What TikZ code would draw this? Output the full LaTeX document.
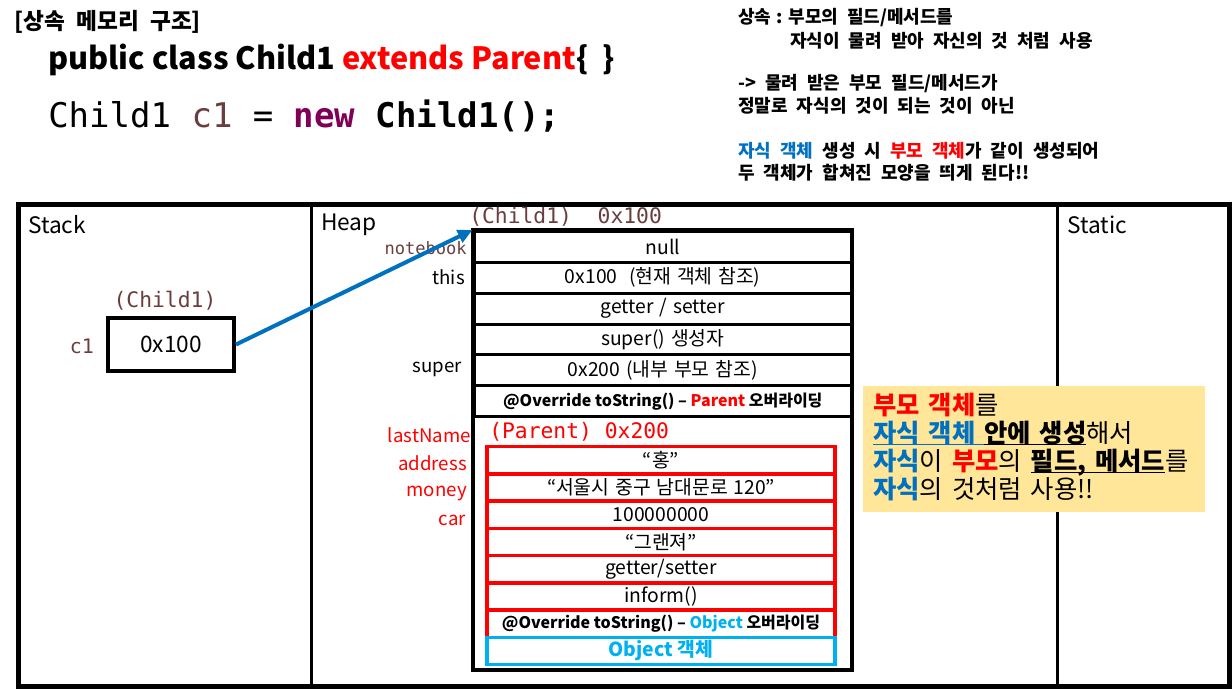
\documentclass[tikz,border=0pt]{standalone}
\usepackage{fontspec}
\setmainfont{Noto Sans CJK KR}
\newfontfamily\codefont{DejaVu Sans Mono}
\usetikzlibrary{arrows.meta}

\definecolor{varbrown}{HTML}{6A3E3E}
\definecolor{keypurple}{HTML}{7F0055}
\definecolor{refblue}{HTML}{0070C0}
\definecolor{objblue}{HTML}{00B0F0}
\definecolor{noteyellow}{HTML}{FFE699}
\definecolor{parentred}{HTML}{FF0000}

\newcommand{\fsz}[1]{\fontsize{#1}{#1}\selectfont}
\newcommand{\widesp}[1]{\spaceskip #1\relax}
\newcommand{\ulword}[1]{\setbox0=\hbox{#1}\rlap{\rule[-2.6pt]{\wd0}{1pt}}\box0}

\begin{document}
\begin{tikzpicture}[x=0.75pt,y=-0.75pt]
  \tikzstyle{area} = [draw, line width=3.75pt]
  \tikzstyle{wall} = [draw, line width=2.25pt]
  \tikzstyle{field} = [rectangle, draw, line width=2.25pt, minimum width=283.1pt, minimum height=23.15pt, inner sep=0pt, font=\fsz{14.5}\widesp{0.3em}]
  \tikzstyle{pfield} = [rectangle, draw=parentred, line width=2.6pt, minimum width=261pt, minimum height=20.42pt, inner sep=0pt, font=\fsz{14.5}\widesp{0.3em}]
  \tikzstyle{fieldname} = [anchor=east, inner sep=0pt, font=\fsz{14}]
  \tikzstyle{monotxt} = [inner sep=0pt, font=\codefont\fsz{16}, text=varbrown]
  \tikzstyle{memo} = [anchor=west, inner sep=0pt, font=\bfseries\fsz{13.5}\widesp{0.5em}]
  \tikzstyle{notetxt} = [anchor=base west, inner sep=0pt, font=\fsz{19}\widesp{0.35em}]
  \tikzstyle{arrow} = [line width=3pt, draw=refblue, -{Triangle[length=11pt,width=10pt]}]

  \useasboundingbox (0,0) rectangle (1232,689);

  % code at the top
  \node[anchor=west, inner sep=0pt, font=\bfseries\fsz{17}\widesp{0.5em}] (title) at (14,22) {[상속 메모리 구조]};
  \node[anchor=west, inner sep=0pt, font=\bfseries\fsz{23}] (classline) at (48,60) {public class Child1 \textcolor{parentred}{extends Parent}\{\ \ \}};
  \node[anchor=west, inner sep=0pt, font=\codefont\fsz{25.5}] (newline) at (48,116) {Child1 \textcolor{varbrown}{c1} = \textcolor{keypurple}{\bfseries new} \textbf{Child1();}};

  % notes at the top right
  \node[memo] (inh1) at (738,18) {상속\hspace{0.3em}:\hspace{0.3em}부모의 필드/메서드를};
  \node[memo] (inh2) at (790,41) {자식이 물려 받아 자신의 것 처럼 사용};
  \node[memo] (inh3) at (738,84) {-> 물려 받은 부모 필드/메서드가};
  \node[memo] (inh4) at (738,106) {정말로 자식의 것이 되는 것이 아닌};
  \node[memo] (inh5) at (738,151) {\textcolor{refblue}{자식 객체} 생성 시 \textcolor{parentred}{부모 객체}가 같이 생성되어};
  \node[memo] (inh6) at (738,173) {두 객체가 합쳐진 모양을 띄게 된다!!};

  % memory areas
  \draw[area] (18.5,204.5) rectangle (1229.5,686.5);
  \draw[wall] (311,204.5) -- (311,686.5);
  \draw[wall] (1057,204.5) -- (1057,686.5);
  \node[anchor=west, inner sep=0pt, font=\fsz{17}] (stack) at (28,225) {Stack};
  \node[anchor=west, inner sep=0pt, font=\fsz{17}] (heap) at (321,225) {Heap};
  \node[anchor=west, inner sep=0pt, font=\fsz{17}] (static) at (1067,225) {Static};

  % stack
  \node[rectangle, draw, line width=3pt, minimum width=94.5pt, minimum height=39.75pt, font=\fsz{17}] (c1box) at (171,344.5) {0x100};
  \node[monotxt] (c1type) at (165,301) {(Child1)};
  \node[monotxt, font=\codefont\fsz{15}] (c1name) at (82,346) {c1};

  % heap: Child1 object
  \begin{scope}[node distance=23.15pt]
    \node[field] (nullrow) at (662.75,246.9) {null};
    \node[field, below of=nullrow] (thisrow) {0x100~~(현재 객체 참조)};
    \node[field, below of=thisrow] (gsrow) {getter / setter};
    \node[field, below of=gsrow] (superrow) {super() 생성자};
    \node[field, below of=superrow] (refrow) {0x200 (내부 부모 참조)};
    \node[field, below of=refrow, font=\bfseries\fsz{12}] (tostrrow) {@Override toString() – \textcolor{parentred}{Parent} 오버라이딩};
  \end{scope}

  % heap: Parent object inside
  \begin{scope}[node distance=20.42pt]
    \node[pfield] (lastrow) at (661,460.3) {“홍”};
    \node[pfield, below of=lastrow] (addrrow) {“서울시 중구 남대문로 120”};
    \node[pfield, below of=addrrow] (moneyrow) {100000000};
    \node[pfield, below of=moneyrow] (carrow) {“그랜져”};
    \node[pfield, below of=carrow] (pgsrow) {getter/setter};
    \node[pfield, below of=pgsrow] (informrow) {inform()};
    \node[pfield, below of=informrow, font=\bfseries\fsz{12}] (ptostrrow) {@Override toString() – \textcolor{objblue}{Object} 오버라이딩};
    \node[pfield, below of=ptostrrow, draw=objblue, text=objblue, font=\bfseries\fsz{14.5}] (objrow) {Object 객체};
  \end{scope}
  \draw[line width=3pt] (nullrow.north west) rectangle (851.5,670);

  \node[monotxt, anchor=west] (childaddr) at (469,217) {(Child1)~~0x100};
  \node[monotxt, anchor=west, text=parentred] (parentaddr) at (489,432) {(Parent) 0x200};

  % field names
  \node[monotxt, anchor=east, font=\codefont\fsz{12.8}] (nbname) at (467,248) {notebook};
  \node[fieldname] (thisname) at (465,277) {this};
  \node[fieldname] (supername) at (462,369) {super};
  \node[fieldname, text=parentred] (lnname) at (471,435) {lastName};
  \node[fieldname, text=parentred] (addrname) at (467,463) {address};
  \node[fieldname, text=parentred] (moneyname) at (467,493) {money};
  \node[fieldname, text=parentred] (carname) at (466,520) {car};

  \draw[arrow] (c1box.east) -- (nullrow.north west);

  % yellow note
  \node[rectangle, fill=noteyellow, minimum width=256.5pt, minimum height=94.5pt] (notebox) at (1034,449) {};
  \node[notetxt] (note1) at (873,414) {\textcolor{parentred}{\textbf{부모 객체}}를};
  \node[notetxt] (note2) at (873,442) {\textcolor{refblue}{\textbf{\ulword{자식 객체 }}}\textbf{\ulword{안에 생성}}해서};
  \node[notetxt] (note3) at (873,470) {\textcolor{refblue}{\textbf{자식}}이 \textcolor{parentred}{\textbf{부모}}의 \textbf{\ulword{필드, 메서드}}를};
  \node[notetxt] (note4) at (873,498) {\textcolor{refblue}{\textbf{자식}}의 것처럼 사용!!};
\end{tikzpicture}
\end{document}
